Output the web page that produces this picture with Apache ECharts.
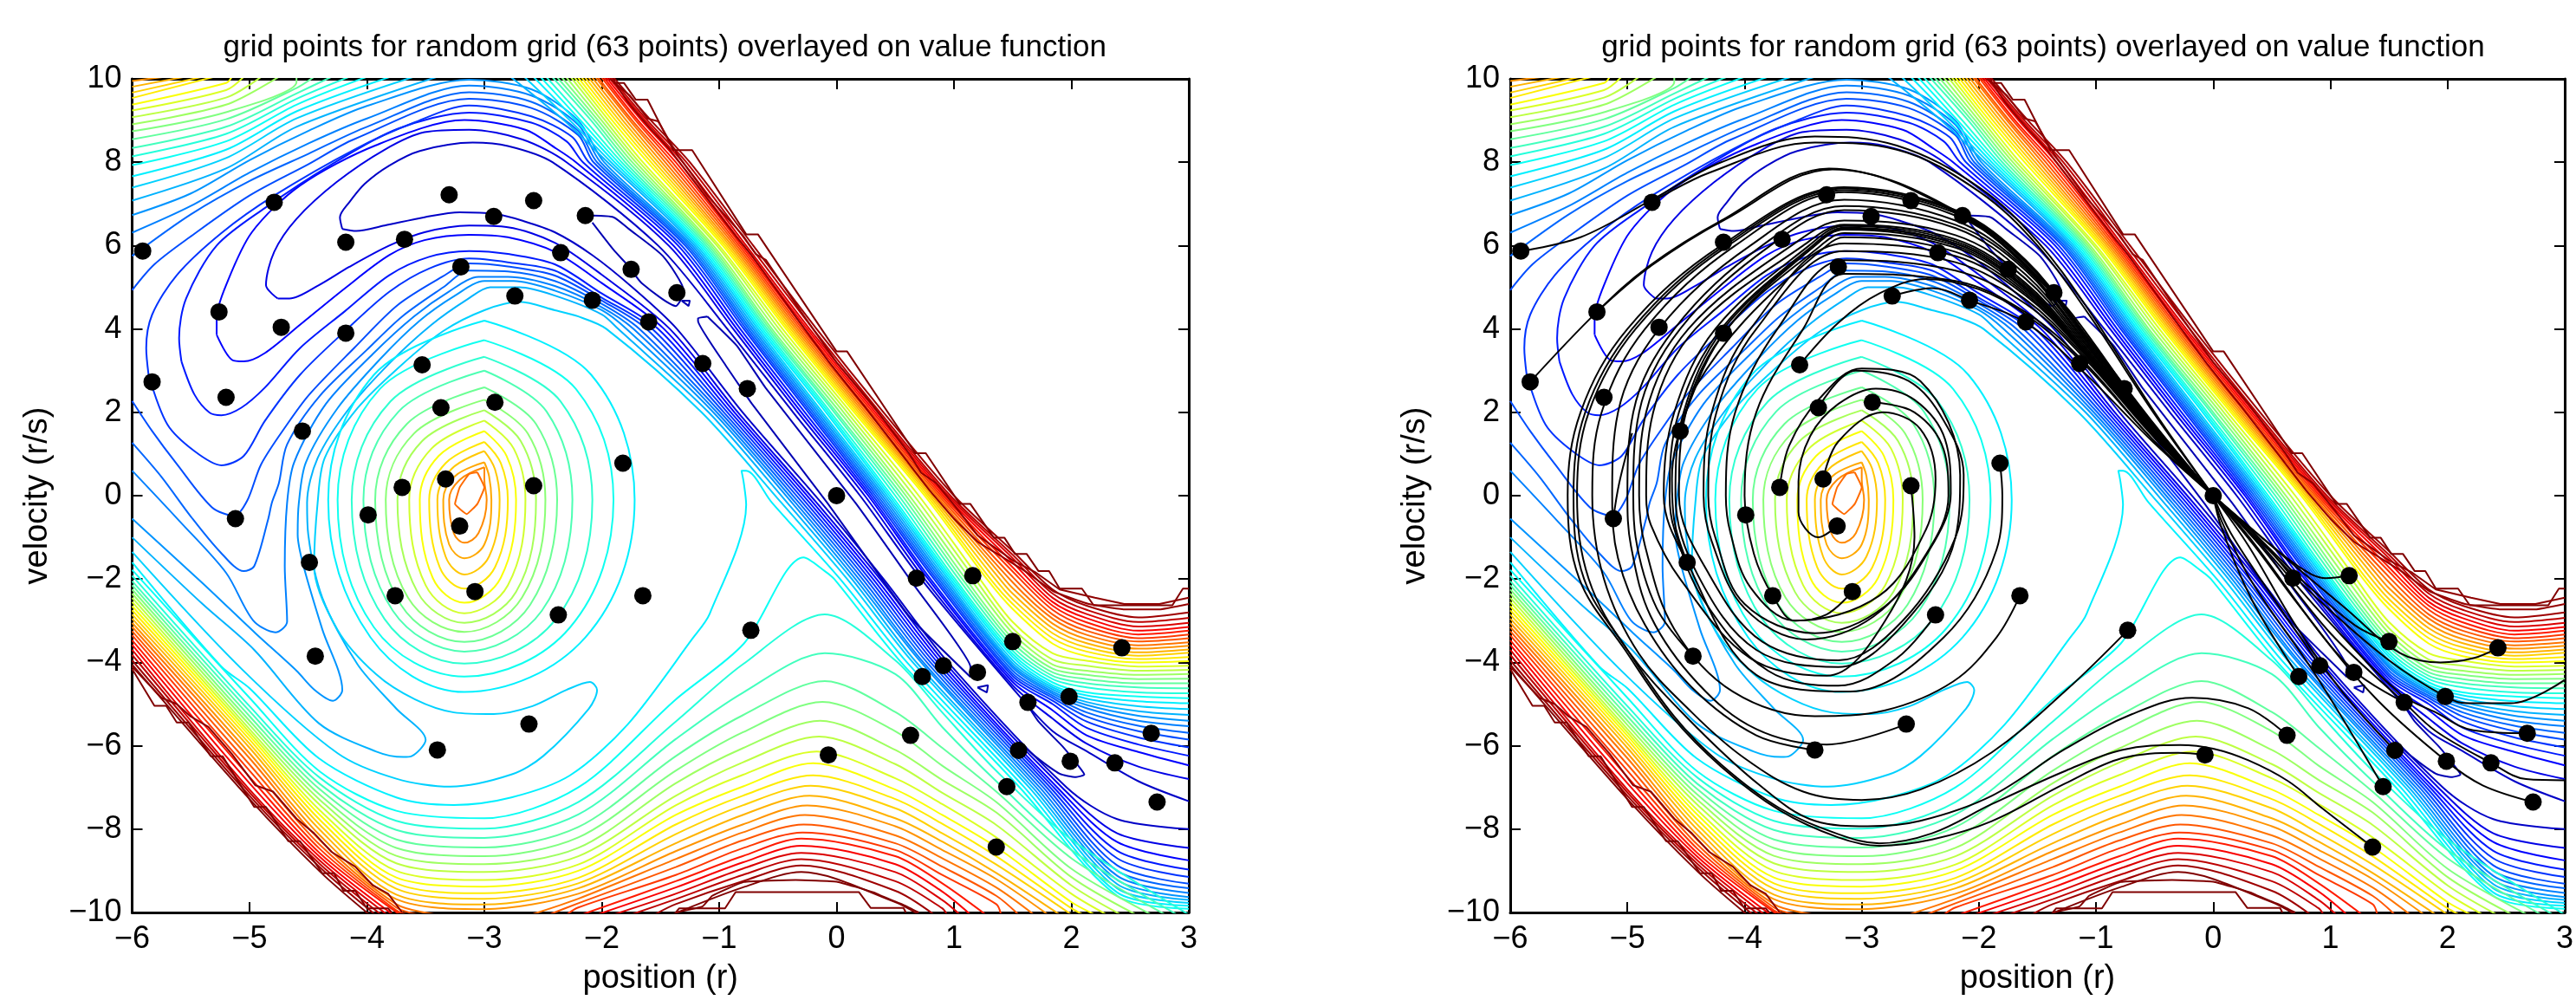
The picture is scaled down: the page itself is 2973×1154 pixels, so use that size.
<!DOCTYPE html>
<html><head><meta charset="utf-8"><style>html,body{margin:0;background:#fff}#c{width:2973px;height:1154px}</style>
<script src="https://cdn.jsdelivr.net/npm/echarts@6/dist/echarts.min.js"></script></head><body><div id="c"></div><script>
const titleText='grid points for random grid (63 points) overlayed on value function';
const xName='position (r)', yName='velocity (r/s)';
const n=null;
// upper valley side of the diagonal band: x read at given y, y read at given x
const bandT=[.07,.1,.125,.15,.175,.2,.225,.25,.27,.3,.33,.36,.385,.41,.44,.47,.5,.53,.56,.59,.62,.645,.67,.7,.73,.76,.79,.82,.85,.88,.91,.94,.97];
const bandX10=[n,n,n,n,n,n,n,n,n,-2.8,-2.68,-2.6,-2.54,-2.49,-2.44,-2.4,-2.36,-2.32,-2.28,-2.25,-2.22,-2.19,-2.16,-2.13,-2.1,-2.07,-2.05,-2.02,-2,-1.98,-1.96,-1.94,-1.92];
const bandX9=[n,n,n,n,n,n,n,n,n,-2.32,-2.27,-2.22,-2.18,-2.14,-2.09,-2.06,-2.03,-2,-1.97,-1.94,-1.91,-1.88,-1.85,-1.82,-1.79,-1.76,-1.74,-1.71,-1.69,-1.66,-1.63,-1.61,-1.58];
const bandX8=[-2.42,-2.3,-2.22,-2.16,-2.11,-2.07,-2.04,-2.01,-1.98,-1.95,-1.92,-1.89,-1.86,-1.83,-1.8,-1.77,-1.74,-1.71,-1.68,-1.65,-1.61,-1.58,-1.55,-1.52,-1.49,-1.46,-1.43,-1.4,-1.37,-1.34,-1.31,-1.28,-1.25];
const bandX6=[-1.52,-1.43,-1.39,-1.35,-1.32,-1.29,-1.27,-1.25,-1.23,-1.21,-1.19,-1.17,-1.15,-1.13,-1.11,-1.09,-1.07,-1.05,-1.02,-1,-.97,-.95,-.93,-.91,-.89,-.87,-.85,-.83,-.81,-.79,-.77,-.74,-.71];
const bandX4=[-.93,-.88,-.85,-.82,-.79,-.77,-.75,-.73,-.71,-.69,-.67,-.65,-.63,-.61,-.59,-.57,-.55,-.52,-.49,-.46,-.43,-.41,-.39,-.37,-.35,-.33,-.31,-.29,-.27,-.25,-.23,-.2,-.17];
const bandX2=[-.37,-.33,-.3,-.27,-.24,-.22,-.2,-.18,-.16,-.14,-.12,-.09,-.07,-.05,-.02,0,.03,.06,.09,.12,.15,.17,.19,.21,.23,.25,.27,.29,.31,.33,.35,.37,.4];
const bandX0=[.2,.24,.27,.29,.31,.33,.35,.37,.39,.41,.43,.45,.47,.5,.53,.56,.59,.62,.66,.7,.75,.77,.79,.81,.83,.85,.87,.89,.91,.93,.95,.97,1];
const bandXm2=[.72,.75,.78,.8,.83,.85,.87,.89,.91,.93,.95,.97,.99,1.01,1.04,1.07,1.1,1.14,1.18,1.22,1.28,1.31,1.35,1.39,1.43,n,n,n,n,n,n,n,n];
const bandY150=[-4.62,-4.55,-4.47,-4.4,-4.33,-4.27,-4.2,-4.13,-4.08,-4.02,-3.95,-3.87,-3.8,-3.72,-3.63,-3.53,-3.43,-3.3,-3.18,-3.03,-2.72,-2.6,-2.48,-2.35,-2.22,-2.08,-1.95,-1.82,-1.72,-1.6,-1.5,-1.42,-1.33];
const bandY184=[-5.65,-5.35,-5.15,-5,-4.92,-4.85,-4.8,-4.75,-4.7,-4.65,-4.6,-4.55,-4.48,-4.4,-4.32,-4.24,-4.15,-4.05,-3.93,-3.78,-3.55,-3.42,-3.3,-3.18,-3.07,-2.95,-2.85,-2.74,-2.64,-2.55,-2.45,-2.35,-2.25];
const bandY213=[-6.13,-5.95,-5.75,-5.57,-5.42,-5.3,-5.2,-5.1,-5.02,-4.95,-4.87,-4.79,-4.72,-4.6,-4.5,-4.4,-4.3,-4.2,-4.08,-3.96,-3.85,-3.74,-3.64,-3.54,-3.44,-3.34,-3.24,-3.14,-3.04,-2.94,-2.84,-2.74,-2.64];
const bandY257=[-6.85,-6.5,-6.15,-5.97,-5.8,-5.65,-5.52,-5.4,-5.28,-5.17,-5.05,-4.93,-4.82,-4.72,-4.6,-4.5,-4.4,-4.3,-4.2,-4.1,-4,-3.92,-3.84,-3.76,-3.67,-3.59,-3.5,-3.42,-3.33,-3.24,-3.14,-3.03,-2.92];
const bandY300=[-7.33,-6.8,-6.47,-6.24,-6.04,-5.85,-5.69,-5.53,-5.4,-5.26,-5.12,-4.98,-4.86,-4.74,-4.62,-4.5,-4.39,-4.28,-4.18,-4.08,-3.97,-3.87,-3.77,-3.69,-3.6,-3.52,-3.42,-3.33,-3.24,-3.15,-3.05,-2.93,-2.8];
// arcs over the top that lead into the band rows
const upperArcs=[
[-4.21,6.4,-4.23,6.68,-4.15,7.04,-4.02,7.48,-3.81,7.92,-3.55,8.27,-3.1,8.47,-2.8,8.39],
[-4.76,4.73,-4.86,5.05,-4.79,5.85,-4.6,6.64,-4.26,7.52,-3.85,8.3,-3.51,8.72,-3.13,8.78,-2.68,8.55],
[-5.28,3.86,-5.28,4.26,-5.2,5.05,-4.98,6.32,-4.57,7.44,-3.93,8.4,-3.17,9.01,-2.65,8.78,-2.4,8.35],
[-5.58,3.22,-5.6,3.78,-5.54,4.73,-5.28,6,-4.87,6.9,-4.3,7.95,-3.74,8.8,-3.13,9.19,-2.6,8.95,-2.3,8.5],
[-5.86,2.9,-5.88,3.54,-5.83,4.34,-5.62,5.29,-5.24,6.3,-4.79,7.2,-4.11,8.3,-3.6,8.95,-3.13,9.36,-2.6,9.1,-2.25,8.6],
[-6,4.93,-5.81,5.55,-5.51,6.2,-5,7.2,-4.5,7.95,-4.11,8.55,-3.13,9.52,-2.6,9.3,-2.2,8.65],
[-6,5.75,-5.5,6.75,-5,7.55,-4.5,8.2,-4,8.85,-3.13,9.68,-2.6,9.45,-2.2,8.75],
[-6,6.31,-5.5,6.95,-5,7.75,-4.5,8.45,-4,9.05,-3.13,9.84,-2.6,9.6,-2.2,8.9],
[-6,6.73,-5.5,7.25,-5,8.05,-4.5,8.75,-4,9.35,-3.13,9.98,-2.6,9.75,-2.2,9]];
// top-left corner pieces
const cornerT=[.3,.33,.36,.385,.41,.44,.47,.5,.53,.56,.59,.62,.645,.67,.7,.73];
const cornerY6=[7.08,7.39,7.66,7.93,8.14,8.34,8.55,8.74,8.91,9.08,9.24,9.38,9.54,9.67,9.81,9.95];
const cornerY52=[7.85,8.1,8.3,8.5,8.68,8.85,9.03,9.2,9.38,9.55,9.73,9.9,n,n,n,n];
const cornerY46=[8.85,9.05,9.22,9.38,9.52,9.65,9.78,9.92,n,n,n,n,n,n,n,n];
const cornerTopX=[-3.4,-3.6,-3.8,-4,-4.15,-4.3,-4.45,-4.6,-4.75,-4.9,-5.05,-5.15,-5.3,-5.4,-5.55,-5.72];
// lower valley side
const lowT=[.07,.1,.125,.15,.175,.2,.225,.25,.27,.3,.33,.36,.385];
const lowX4=[-1.36,-1.42,-1.47,-1.52,-1.57,-1.62,-1.68,-1.73,-1.79,-1.86,-1.96,n,n];
const lowX2=[-.8,-.84,-.87,-.9,-.93,-.96,-.99,-1.02,-1.05,-1.09,-1.15,n,n];
const lowX017=[-.13,-.17,-.2,-.23,-.26,-.29,-.32,-.35,-.38,-.42,-.47,-.55,n];
const lowXm2=[.4,.37,.34,.31,.28,.25,.22,.19,.16,.13,.09,.03,-.02];
const lowXm4=[.95,.92,.89,.86,.83,.8,.77,.74,.72,.68,.65,.6,.55];
const lowXm7=[1.96,1.92,1.88,1.85,1.82,1.79,1.76,1.73,1.7,1.67,1.64,1.6,1.56];
const lowY240=[-7.76,-8.1,-8.31,-8.52,-8.7,-8.87,-9,-9.12,-9.22,-9.32,-9.42,-9.52,-9.6];
const lowY300=[-8,-8.45,-8.75,-8.97,-9.15,-9.31,-9.42,-9.53,-9.63,-9.7,-9.77,-9.84,-9.91];
const lowerTongues=[
[-4.21,6.4,-4.09,6.35,-3.85,6.48,-3.51,6.68,-3.21,6.8,-2.91,6.76,-2.68,6.6,-2.4,6.32,-2.08,5.77,-1.74,5],
[-4.76,4.73,-4.66,4.73,-4.41,5.05,-4.15,5.49,-3.81,6,-3.51,6.32,-3.13,6.48,-2.8,6.44,-2.4,6.07,-2,5.3],
[-5.28,3.86,-5.15,3.26,-5.05,3.22,-4.87,3.42,-4.57,4.1,-4.19,4.97,-3.81,5.77,-3.51,6.13,-3.13,6.26,-2.8,6.2,-2.4,5.85,-2,5.1],
[-5.58,3.22,-5.47,2.43,-5.34,1.99,-5.24,1.93,-5.07,2.11,-4.87,2.59,-4.57,3.54,-4.19,4.42,-3.81,5.29,-3.47,5.73,-3.13,5.87,-2.8,5.8,-2.4,5.55,-2,4.85],
[-5.86,2.9,-5.7,1.71,-5.47,1.07,-5.24,.73,-5.05,.95,-4.87,1.79,-4.57,2.9,-4.19,3.94,-3.81,4.89,-3.47,5.45,-3.13,5.69,-2.8,5.6,-2.4,5.4,-2,4.75],
[-6,2.27,-5.83,1.55,-5.62,.76,-5.32,-.28,-5.13,-.48,-5.02,-.12,-4.9,.76,-4.68,1.71,-4.49,2.43,-4.11,3.54,-3.74,4.57,-3.36,5.25,-3.13,5.57,-2.8,5.5,-2.4,5.28,-2,4.68],
[-6,1.27,-5.75,.45,-5.5,-.5,-5.25,-1.35,-5.05,-1.81,-4.96,-1.69,-4.84,-.55,-4.81,-.17,-4.75,.3,-4.68,1.23,-4.4,2.4,-4,3.5,-3.7,4.3,-3.35,5,-3.13,5.4,-2.8,5.38,-2.4,5.15,-2,4.6],
[-6,.6,-5.6,-.6,-5.2,-1.85,-4.97,-2.99,-4.78,-3.28,-4.68,-3.02,-4.7,-1.69,-4.68,-.17,-4.62,.8,-4.35,2.2,-3.95,3.4,-3.6,4.3,-3.3,4.9,-3.05,5.25,-2.8,5.25,-2.4,5.03,-2,4.52],
[-6,-.55,-5.4,-2.1,-4.95,-3.3,-4.6,-4.2,-4.45,-4.65,-4.29,-4.92,-4.21,-4.66,-4.38,-3.21,-4.54,-1.69,-4.59,-.93,-4.58,-.17,-4.52,.8,-4.25,2.1,-3.88,3.3,-3.55,4.2,-3.25,4.8,-3,5.15,-2.75,5.15,-2.4,4.92,-2,4.45],
[-6,-1,-5.4,-2.6,-4.96,-3.7,-4.41,-5.46,-3.92,-6.14,-3.69,-6.27,-3.62,-6.25,-3.5,-5.86,-3.75,-5.11,-4.08,-4.05,-4.38,-2.45,-4.5,-.93,-4.51,-.17,-4.42,.9,-4.15,2.1,-3.8,3.2,-3.45,4.1,-3.15,4.7,-2.95,5,-2.7,5,-2.4,4.8,-2,4.35],
[-6,-1.35,-5.07,-4.15,-4.25,-6.18,-3.75,-6.79,-3.29,-6.98,-2.77,-6.69,-2.5,-6.25,-2.11,-5.11,-2.04,-4.66,-2.1,-4.47,-2.3,-4.66,-2.59,-5.05,-2.92,-5.24,-3.26,-5.2,-3.59,-4.89,-3.92,-4.29,-4.25,-3.22,-4.45,-1.69,-4.42,-.17,-4.36,.9,-4.08,2.1,-3.72,3.1,-3.35,3.95,-3,4.45,-2.7,4.65,-2.4,4.45,-2.2,4.3],
[-6,-1.6,-5.24,-4.1,-5,-4.62,-4.41,-6.3,-3.75,-7.24,-3.26,-7.42,-2.77,-7.24,-2.27,-6.71,-1.78,-5.49,-1.23,-3.44,-1.08,-2.83,-.77,-.22,-.79,.3,-.81,.6,-.77,.6],
[-6,-1.78,-5,-4.85,-4.4,-6.62,-3.75,-7.56,-3,-7.74,-2.2,-7,-1.37,-4.89,-.79,-3.55,-.28,-1.48,-.1,-1.81]];
// U-and-hump family
const humpT=[.41,.44,.47,.5,.53,.56,.59,.62,.645,.67,.7,.73,.76,.79,.82,.85,.88,.91,.94,.97,1];
const humpYm6=[-1.92,-2.05,-2.15,-2.25,-2.35,-2.45,-2.55,-2.65,-2.75,-2.85,-2.95,-3.05,-3.15,-3.25,-3.35,-3.47,-3.58,-3.7,-3.82,-3.95,-4.05];
const humpYm5=[-5.05,-5.17,-5.29,-5.4,-5.5,-5.6,-5.68,-5.76,-5.85,-5.95,-6.05,-6.18,-6.3,-6.45,-6.6,-6.75,-6.9,-7.05,-7.12,-7.2,-7.28];
const humpYm44=[-6.77,-6.92,-7.05,-7.18,-7.3,-7.42,-7.55,-7.66,-7.78,-7.9,-8.02,-8.15,-8.27,-8.38,-8.48,-8.58,-8.67,-8.76,-8.84,-8.92,-9.02];
const humpYm375=[-7.8,-8.02,-8.25,-8.45,-8.64,-8.82,-9,-9.16,-9.3,-9.43,-9.57,-9.68,-9.8,-9.88,-9.95,n,n,n,n,n,n];
const humpYm3=[-7.99,-8.21,-8.44,-8.65,-8.84,-9.03,-9.22,-9.38,-9.54,-9.67,-9.81,-9.92,n,n,n,n,n,n,n,n,n];
const humpBottomL=[n,n,n,n,n,n,n,n,n,n,n,n,-3.4,-3.55,-3.65,-3.72,-3.78,-3.83,-3.88,-3.93,-3.98];
const humpBottomR=[n,n,n,n,n,n,n,n,n,n,n,n,-2.6,-2.45,-2.3,-2.17,-2.04,-1.9,-1.75,-1.55,-1.4];
const humpYm22=[-7.35,-7.65,-7.95,-8.2,-8.45,-8.65,-8.85,-9,-9.17,-9.3,-9.42,-9.55,-9.67,-9.78,-9.88,n,n,n,n,n,n];
const humpYm137=[-5.42,-5.84,-6.25,-6.6,-6.9,-7.2,-7.43,-7.66,-7.89,-8.12,-8.34,-8.53,-8.72,-8.91,-9.1,-9.25,-9.4,-9.55,-9.68,-9.8,n];
const humpYm08=[-4.05,-4.73,-5.27,-5.68,-6.06,-6.4,-6.7,-6.98,-7.2,-7.43,-7.66,-7.89,-8.08,-8.27,-8.46,-8.65,-8.8,-8.95,-9.1,-9.25,-9.4];
const humpTopX=[-.1,-.1,-.1,-.12,-.14,-.15,-.17,-.2,-.2,-.22,-.23,-.25,-.27,-.28,-.29,-.3,-.3,-.3,-.3,-.3,-.3];
const humpTopY=[-2.85,-3.78,-4.45,-4.95,-5.4,-5.78,-6.14,-6.42,-6.71,-6.96,-7.2,-7.43,-7.66,-7.89,-8.08,-8.23,-8.4,-8.57,-8.72,-8.87,-9.03];
const humpY05=[-3.95,-4.28,-5.19,-5.65,-6.1,-6.44,-6.78,-7.05,-7.28,-7.5,-7.74,-7.93,-8.15,-8.34,-8.5,-8.65,-8.84,-9.03,-9.25,-9.48,-9.75];
const humpY09=[-5.2,-5.55,-6.05,-6.48,-6.82,-7.13,-7.4,-7.66,-7.87,-8.1,-8.3,-8.5,-8.7,-8.9,-9.1,-9.3,-9.5,-9.7,-9.9,n,n];
const humpY136=[-6.6,-6.85,-7.1,-7.35,-7.6,-7.9,-8.2,-8.43,-8.65,-8.85,-9.05,-9.2,-9.4,-9.6,-9.8,n,n,n,n,n,n];
const humpY2=[-8.25,-8.5,-8.7,-8.95,-9.15,-9.35,-9.55,-9.75,-9.9,n,n,n,n,n,n,n,n,n,n,n,n];
const humpEndX=[3,2.9,2.8,2.68,2.55,2.42,2.3,2.2,2.1,2,1.9,1.8,1.68,1.55,1.4,1.27,1.14,1.05,.94,.83,.7];
// rings around the central hill
const ringT=[.36,.39,.42,.45,.48,.51,.54,.58,.62,.65,.68,.71,.74];
const ringTop=[4.2,3.73,3.33,3,2.6,2.3,2.05,1.8,1.55,1.29,1.07,.8,.68];
const ringBottom=[-4.71,-4.34,-4.03,-3.74,-3.51,-3.27,-3.05,-2.82,-2.57,-2.23,-1.89,-1.5,-1.13];
const ringLeft=[-4.33,-4.25,-4.13,-4.03,-3.93,-3.84,-3.74,-3.64,-3.55,-3.47,-3.4,-3.35,-3.3];
const ringRight=[-1.72,-1.9,-2.08,-2.25,-2.38,-2.48,-2.56,-2.65,-2.73,-2.8,-2.87,-2.94,-2.98];
const ringUpperRightX=[-2.09,-2.22,-2.35,-2.47,-2.56,-2.63,-2.69,-2.75,-2.81,-2.86,-2.91,-2.96,-3];
const ringUpperY=[2.9,2.56,2.26,2.02,1.72,1.49,1.31,1.13,.95,.78,.64,.47,.38];
const ringLowerRightX=[-2.14,-2.27,-2.39,-2.51,-2.61,-2.68,-2.73,-2.8,-2.86,-2.91,-2.96,-3,-3.05];
const ringLowerY=[-3.4,-3.16,-2.96,-2.76,-2.62,-2.45,-2.31,-2.15,-1.97,-1.72,-1.46,-1.17,-.9];
const ringLowerLeftX=[-3.97,-3.94,-3.85,-3.78,-3.71,-3.65,-3.57,-3.5,-3.44,-3.38,-3.33,-3.3,-3.26];
const ringUpperLeftX=[-3.94,-3.89,-3.8,-3.73,-3.66,-3.6,-3.53,-3.45,-3.39,-3.33,-3.28,-3.25,-3.21];
const innerRing=[-3.06,.56,-3,.2,-3.06,-.2,-3.15,-.44,-3.25,-.2,-3.21,.2,-3.13,.52,-3.06,.56];
// single pieces
const edgeStairUpper=[-1.9,9.9,-1.81,9.9,-1.71,9.5,-1.61,9.5,-1.39,8.29,-1.23,8.29,-.77,6.27,-.67,6.27,0,3.46,.09,3.46,.67,1.02,.76,1.02,1.05,-.2,1.14,-.2,1.34,-1.01,1.43,-1.01,1.52,-1.4,1.62,-1.4,1.72,-1.81,1.81,-1.81,1.9,-2.23,2.09,-2.23,2.19,-2.63,2.86,-2.63,2.95,-2.23,3,-2.23];
const edgeStairLower=[-6,-4.16,-5.81,-5.04,-5.71,-5.04,-5.62,-5.44,-5.52,-5.44,-5.33,-6.25,-5.23,-6.25,-4.96,-7.47,-4.86,-7.47,-4.67,-8.29,-4.57,-8.29,-4.38,-9.06,-4.28,-9.06,-4.2,-9.48,-4.1,-9.48,-4,-9.9,-3.82,-9.9,-3.79,-10];
const edgeStairBottom=[-1.37,-10,-1.34,-9.9,-.95,-9.9,-.86,-9.51,.19,-9.51,.29,-9.89,.57,-9.89,.59,-10];
const edgeLineUpper=[-1.93,10,-1.76,9.6,-1.61,9.05,-1.52,8.98,-1.36,8.2,-1.1,7.2,-.8,6.25,-.69,5.8,-.6,5.65,-.3,4.4,0,3.2,.3,2.2,.62,1,.72,.55,.85,.3,1.05,-.4,1.2,-.95,1.35,-1.25,1.5,-1.55,1.7,-1.85,1.9,-2.25,2.2,-2.45,2.45,-2.6,2.75,-2.6,3,-2.45];
const edgeLineUpper2=[-1.91,10,-1.78,9.45,-1.6,8.85,-1.42,8.3,-1.15,7.3,-.85,6.2,-.72,5.75,-.35,4.3,-.05,3.15,.25,2.1,.58,.9,.8,.1,1,-.55,1.2,-1.1,1.4,-1.45,1.6,-1.8,1.85,-2.3,2.15,-2.6,2.45,-2.73,2.75,-2.73,3,-2.6];
const edgeLineLower=[-6,-4.1,-5.75,-4.85,-5.62,-5,-5.5,-5.3,-5.35,-5.55,-5.15,-6.2,-4.95,-6.95,-4.8,-7.1,-4.6,-7.75,-4.45,-8.1,-4.3,-8.55,-4.1,-8.9,-3.95,-9.35,-3.82,-9.55,-3.7,-10];
const edgeLineHump=[-1.37,-10,-1.14,-9.85,-1.06,-9.6,-.79,-9.27,-.35,-9.22,0,-9.26,.32,-9.52,.38,-9.6,.58,-9.83,.7,-10];
const valleyFinger=[-1.1,4.3,-.85,3.6,-.6,2.57,.16,-.17,.66,-2.15,1.14,-4.1,1.14,-4.35,.62,-2.9,-.08,-.17,-.72,2.2,-.95,3.15,-1.18,4.19,-1.18,4.26,-1.1,4.3];
const valleyFinger2=[1.61,-4.95,1.72,-5.42,1.93,-6.03,2.07,-6.52,2.11,-6.69,2.04,-6.75,1.9,-6.67,1.69,-6.25,1.55,-5.9];
const valleyFinger3=[-2.08,6.72,-1.9,6.68,-1.77,6.4,-1.48,5.75,-1.3,4.9,-1.37,4.55,-1.66,5.1,-1.77,5.5,-1.9,5.9,-2.08,6.55];
const tinyLoop1=[-1.32,4.68,-1.25,4.68,-1.26,4.55,-1.32,4.68];
const tinyLoop2=[1.2,-4.6,1.29,-4.55,1.28,-4.72,1.2,-4.6];
// grid points
const gridX=[-5.91,-5.83,-4.79,-5.26,-4.73,-5.2,-4.18,-3.68,-4.18,-3.3,-2.92,-2.58,-2.14,-2.35,-3.2,-2.74,-1.75,-2.08,-1.36,-1.6,-1.14,-.76,0,-3.53,-3.37,-2.91,-4.55,-3.7,-3.33,-2.58,-1.82,-5.12,-3.99,-3.21,-4.49,-3.76,-3.08,-1.65,-2.37,-4.44,-2.62,-3.4,-.73,.68,1.16,1.5,2.43,.73,.91,1.2,1.63,1.98,2.68,.63,-.07,1.55,1.99,2.37,2.73,1.45,1.36];
const gridY=[5.87,2.73,7.04,4.41,4.04,2.36,6.08,6.15,3.9,7.22,6.7,7.08,6.72,5.83,5.49,4.79,5.43,4.69,4.87,4.17,3.17,2.57,0,3.14,2.11,2.24,1.55,.2,.4,.24,.78,-.55,-.46,-.73,-1.6,-2.4,-2.3,-2.4,-2.86,-3.85,-5.48,-6.1,-3.23,-1.98,-1.92,-3.5,-3.65,-4.34,-4.08,-4.24,-4.96,-4.82,-5.7,-5.75,-6.22,-6.11,-6.37,-6.41,-7.35,-6.98,-8.43];
// closed-loop paths into the goal: last pass over the top
const arcStartX=[-5.51,-5.46,-5.43,-5.3,-5.13,-5,-4.95,-4.9,-4.84,-4.69,-4.64,-4.59,-4.56,-4.35,-4.31,-4.16,-4];
const arcX2=[-5.4,-5.36,-5.33,-5.22,-5.08,-4.95,-4.9,-4.84,-4.78,-4.6,-4.56,-4.52,-4.5,-4.28,-4.24,-4.08,-3.9];
const arcX4=[-5,-4.96,-4.93,-4.85,-4.73,-4.6,-4.55,-4.48,-4.42,-4.25,-4.2,-4.18,-4.15,-3.95,-3.9,-3.72,-3.5];
const arcX6=[-4.2,-4.17,-4.14,-4.08,-3.95,-3.85,-3.78,-3.6,-3.5,-3.45,-3.42,-3.4,-3.35,n,n,n,n];
const arcTop=[7.4,7.37,7.33,7.28,7.1,6.95,6.85,6.6,6.5,6.47,6.43,6.38,6.3,6.05,5.87,5.65,5.32];
const arcY22=[6.85,6.82,6.78,6.72,6.6,6.5,6.42,6.25,6.15,6.1,6.05,6,5.95,5.75,5.6,5.4,5.15];
const arcY16=[5.65,5.62,5.6,5.55,5.45,5.4,5.3,5.2,5.1,5.05,5,4.95,4.9,4.8,4.7,4.6,4.4];
const arcY11=[3.9,3.88,3.85,3.8,3.75,3.7,3.65,3.6,3.55,3.5,3.5,3.45,3.45,3.4,3.35,3.3,3.2];
const arcY05=[1.7,1.68,1.66,1.64,1.62,1.6,1.58,1.55,1.52,1.5,1.48,1.46,1.44,1.42,1.4,1.38,1.3];
const leadIns=[
[-.07,-6.22,-.3,-6.17,-.78,-6.3,-1.26,-6.9,-1.89,-7.81,-2.4,-8.25,-2.85,-8.4,-3.2,-8.2,-3.7,-7.55,-4.2,-6.5,-4.62,-5.3,-5.02,-3.7,-5.41,-2],
[1.36,-8.43,.93,-7.5,.64,-6.85,.3,-6.35,0,-6.07,-.28,-5.98,-.78,-6.1,-1.26,-6.6,-1.89,-7.4,-2.4,-8.1,-2.85,-8.34,-3.2,-8.12,-3.7,-7.5,-4.2,-6.45,-4.6,-5.3,-5,-3.7,-5.37,-2],
[.63,-5.75,.3,-5.1,-.18,-4.85,-.7,-5.25,-1.26,-6.07,-1.89,-7.2,-2.5,-7.8,-2.95,-7.93,-3.4,-7.8,-3.87,-6.95,-4.5,-5.3,-5,-3.7,-5.33,-2],
[-.73,-3.23,-1.26,-4.68,-1.89,-6.16,-2.5,-7.05,-3,-7.3,-3.5,-7.1,-4,-6.3,-4.45,-5.2,-4.9,-3.8,-5.2,-2],
[-3.4,-6.1,-3.9,-5.75,-4.45,-4.6,-4.85,-3.1,-5.08,-1.5],
[-2.62,-5.48,-3.3,-5.97,-3.9,-5.6,-4.4,-4.5,-4.8,-2.9,-4.97,-1.2],
[-4.44,-3.85,-4.75,-2.7,-4.93,-1],
[-1.65,-2.4,-1.85,-3.4,-2.22,-4.46,-2.8,-5.15,-3.4,-5.29,-4.1,-4.7,-4.6,-3.2,-4.85,-1.2],
[-2.58,.24,-2.55,-1,-2.8,-3,-3.3,-4.32,-3.95,-3.9,-4.55,-2,-4.8,-.7],
[-1.82,.78,-1.8,0,-1.85,-1.3,-2.3,-3.4,-3.1,-4.7,-3.9,-4.3,-4.49,-1.6],
[-2.37,-2.86,-2.7,-3.9,-3.2,-4.56,-3.8,-4.2,-4.35,-2.5,-4.6,-.8],
[-3.7,.2,-3.62,1.2,-3.37,2.3,-3,3.05,-2.5,2.75,-2.16,.5,-2.2,-1,-2.65,-3.1,-3.2,-4.11,-3.9,-3.7,-4.4,-1.9],
[-3.37,2.11,-3.05,3,-2.6,2.75,-2.3,1.8,-2.13,.5,-2.2,-1,-2.65,-3,-3.2,-3.95,-3.85,-3.5,-4.3,-1.9],
[-2.91,2.24,-2.55,2,-2.3,1.1,-2.26,0,-2.45,-1.4,-2.9,-2.9,-3.47,-3.45,-4,-2.7,-4.28,-1.1],
[-3.21,-.73,-3.37,-1,-3.54,-.39,-3.54,.34,-3.44,1.43,-3.2,2.2,-2.88,2.57,-2.55,2.3,-2.29,1.36,-2.24,.05,-2.38,-1.1,-2.8,-2.65,-3.4,-3.3,-4,-2.6,-4.25,-1],
[-3.33,.4,-3.2,1.3,-2.82,2,-2.5,1.6,-2.37,.4,-2.45,-.8,-2.85,-2.4,-3.57,-3,-3.95,-2.2,-4.12,-.9],
[-3.08,-2.3,-3.3,-2.85,-3.57,-3,-3.76,-2.4,-3.92,-1.4]];
const extraPaths=[
[-5.91,5.87,-5.4,6.2,-4.79,7.1,-4.2,8,-3.4,8.62,-2.7,8.4,-2,7.4,-1.5,6.1,-1.05,4.4,-.5,2,0,0],
[-4.79,7.04,-4.3,7.75,-3.4,8.47,-2.7,8.3,-2,7.3,-1.5,6,-1.05,4.3,-.5,1.95,0,0],
[-5.83,2.73,-5.26,4.41,-4.82,5.5,-4.2,6.6,-3.28,7.85,-2.16,6.74,-1.37,4.85,-1.05,3.7,-.5,1.6,0,0],
[-5.26,4.41,-4.79,5.53,-4.17,6.62,-3.25,7.83,-2.14,6.74,-1.35,4.82,-1.03,3.7,-.5,1.6,0,0],
[-5.12,-.55,-5.07,.3,-4.96,1.5],
[-3.53,3.14,-3.2,4.15,-2.85,4.85,-2.45,5.2,-2,4.95,-1.6,4.35,-1.1,3.15,-.5,1.3,0,0],
[-2.74,4.79,-2.4,4.98,-2.08,4.69,-1.6,4.15,-1.1,2.95,-.5,1.25,0,0],
[2.43,-3.65,2.22,-3.9,1.94,-4,1.59,-3.77,1.12,-2.68,.64,-1.55,0,0],
[1.16,-1.92,.96,-1.98,.74,-1.72,.39,-.94,0,0],
[1.5,-3.5,1.21,-3.11,.74,-1.98,.33,-.85,0,0],
[.68,-1.98,.4,-1.05,0,0],
[3,-4.42,2.54,-4.98,2.16,-4.98,1.98,-4.82,1.5,-3.95,.9,-2.5,.4,-1.1,0,0],
[2.68,-5.7,2.22,-5.63,1.9,-5.2,1.6,-4.76,.96,-2.94,.4,-1.15,0,0],
[3,-6.83,2.67,-6.8,2.37,-6.41,1.9,-5.65,1.63,-4.96,1,-3.3,.4,-1.2,0,0],
[2.73,-7.35,2.3,-6.95,1.99,-6.37,1.4,-4.9,.9,-3.25,.35,-1.15,0,0],
[1.45,-6.98,.86,-4.24,.33,-2.07,.07,-.6,0,0],
[.73,-4.34,.33,-2.5,.07,-.76,0,0],
[.91,-4.08,.5,-2.4,.15,-.9,0,0],
[1.63,-4.96,1.2,-4.2,.75,-2.7,.35,-1.2,0,0],
[1.55,-6.11,1.1,-4.7,.7,-3.1,.3,-1.2,0,0],
[-4.49,-1.6,-4.6,-.6,-4.62,.4,-4.5,2,-4.15,4,-3.4,6,-3.15,6.41,-2.2,6.05,-1.6,5,-1.1,3.48,-.5,1.47,0,0],
[-4.55,1.55,-4.42,2.6,-4,4.2,-3.3,6,-3.15,6.2,-2.2,5.85,-1.6,4.85,-1.1,3.42,-.5,1.43,0,0]];

function jet(t){
  const c=v=>Math.round(255*Math.max(0,Math.min(1,v)));
  const r=t<.375?0:t<.625?(t-.375)/.25:t<.875?1:1-(t-.875)*4;
  const g=t<.125?0:t<.375?(t-.125)/.25:t<.625?1:t<.875?1-(t-.625)/.25:0;
  const b=t<.125?.5+t*4:t<.375?1:t<.625?1-(t-.375)/.25:0;
  return `rgb(${c(r)},${c(g)},${c(b)})`;
}
const pairs=f=>{const o=[];for(let i=0;i<f.length;i+=2)o.push([f[i],f[i+1]]);return o;};
const contours=[];
const add=(t,pts,s=.3)=>contours.push({t,pts,s});
bandT.forEach((t,i)=>{
  const p=i<upperArcs.length?pairs(upperArcs[i]):[];
  if(bandX10[i]!==n){p.push([bandX10[i],10.1],[bandX9[i],9]);}
  p.push([bandX8[i],8],[bandX6[i],6],[bandX4[i],4],[bandX2[i],2],[bandX0[i],0]);
  if(bandXm2[i]!==n)p.push([bandXm2[i],-2]);
  p.push([1.5,bandY150[i]],[1.84,bandY184[i]],[2.13,bandY213[i]],[2.57,bandY257[i]],[3,bandY300[i]]);
  add(t,p);
});
cornerT.forEach((t,i)=>{
  const p=[[-6,cornerY6[i]]];
  if(cornerY52[i]!==n)p.push([-5.2,cornerY52[i]]);
  if(cornerY46[i]!==n)p.push([-4.6,cornerY46[i]]);
  p.push([cornerTopX[i],10.05]);
  add(t,p);
});
lowT.forEach((t,i)=>{
  const p=pairs(lowerTongues[i]);
  if(lowX4[i]!==n)p.push([lowX4[i],4],[lowX2[i],2]);
  if(lowX017[i]!==n)p.push([lowX017[i],-.17]);
  p.push([lowXm2[i],-2],[lowXm4[i],-4],[lowXm7[i],-7],[2.39,lowY240[i]],[3,lowY300[i]]);
  add(t,p);
});
humpT.forEach((t,i)=>{
  const a=[[-6,humpYm6[i]],[-5,humpYm5[i]],[-4.4,humpYm44[i]]];
  if(humpYm375[i]!==n)a.push([-3.75,humpYm375[i]]);
  let b=[];
  if(humpYm3[i]!==n){a.push([-3,humpYm3[i]]);b=a;}
  else{a.push([humpBottomL[i],-10.05]);add(t,a);b=[[humpBottomR[i],-10.05]];}
  if(humpYm22[i]!==n)b.push([-2.2,humpYm22[i]]);
  if(humpYm137[i]!==n)b.push([-1.37,humpYm137[i]]);
  b.push([-.8,humpYm08[i]],[humpTopX[i],humpTopY[i]],[.5,humpY05[i]]);
  if(humpY09[i]!==n)b.push([.9,humpY09[i]]);
  if(humpY136[i]!==n)b.push([1.36,humpY136[i]]);
  if(humpY2[i]!==n)b.push([2,humpY2[i]]);
  b.push([humpEndX[i],-10.05]);
  add(t,b);
});
ringT.forEach((t,i)=>{
  add(t,[[-3,ringTop[i]],[ringUpperRightX[i],ringUpperY[i]],[ringRight[i],-.1],[ringLowerRightX[i],ringLowerY[i]],[-3.17,ringBottom[i]],[ringLowerLeftX[i],ringLowerY[i]],[ringLeft[i],-.1],[ringUpperLeftX[i],ringUpperY[i]],[-3,ringTop[i]]],.37);
});
add(.77,pairs(innerRing),.1);
add(1,pairs(edgeStairUpper),0);add(1,pairs(edgeStairLower),0);add(1,pairs(edgeStairBottom),0);
add(.985,pairs(edgeLineUpper),0);add(.98,pairs(edgeLineUpper2),.1);add(.99,pairs(edgeLineLower),0);add(1,pairs(edgeLineHump),.1);
add(.05,pairs(valleyFinger),.1);add(.05,pairs(valleyFinger2),.2);add(.05,pairs(valleyFinger3),.2);add(.05,pairs(tinyLoop1),0);add(.05,pairs(tinyLoop2),0);

const trajectories=[];
leadIns.forEach((l,i)=>{
  const p=pairs(l);p.push([arcStartX[i],0],[arcX2[i],2],[arcX4[i],4]);
  if(arcX6[i]!==n)p.push([arcX6[i],6]);
  p.push([-3.15,arcTop[i]],[-2.2,arcY22[i]],[-1.6,arcY16[i]],[-1.1,arcY11[i]],[-.5,arcY05[i]],[0,0]);
  trajectories.push(p);
});
extraPaths.forEach(e=>trajectories.push(pairs(e)));

const panels=[{left:152.5,w:1219.5},{left:1743,w:1220}];
const grids=[],xAxes=[],yAxes=[],series=[],titles=[];
const font='"Liberation Sans",Arial,sans-serif';
const minus=v=>String(v).replace('-','\u2212');
panels.forEach((pn,k)=>{
  grids.push({left:pn.left,top:91,width:pn.w,height:962,containLabel:false});
  titles.push({text:titleText,left:pn.left+pn.w/2,top:33,textAlign:'center',textStyle:{fontFamily:font,fontSize:35,fontWeight:'normal',color:'#000'}});
  const line={show:true,onZero:false,lineStyle:{color:'#000',width:3}};
  const tick={show:true,inside:true,length:12,lineStyle:{color:'#000',width:2}};
  xAxes.push({type:'value',gridIndex:k,min:-6,max:3,interval:1,position:'bottom',axisLine:line,axisTick:tick,splitLine:{show:false},
    axisLabel:{fontFamily:font,fontSize:36,color:'#000',margin:13,formatter:minus},name:xName,nameLocation:'middle',nameGap:58,nameTextStyle:{fontFamily:font,fontSize:38,color:'#000'}});
  xAxes.push({type:'value',gridIndex:k,min:-6,max:3,interval:1,position:'top',axisLine:line,axisTick:tick,splitLine:{show:false},axisLabel:{show:false}});
  yAxes.push({type:'value',gridIndex:k,min:-10,max:10,interval:2,position:'left',axisLine:line,axisTick:tick,splitLine:{show:false},
    axisLabel:{fontFamily:font,fontSize:36,color:'#000',margin:12,formatter:minus},name:yName,nameLocation:'middle',nameGap:90,nameRotate:90,nameTextStyle:{fontFamily:font,fontSize:38,color:'#000'}});
  yAxes.push({type:'value',gridIndex:k,min:-10,max:10,interval:2,position:'right',axisLine:line,axisTick:tick,splitLine:{show:false},axisLabel:{show:false}});
  const xi=k*2,yi=k*2;
  contours.forEach(c=>series.push({type:'line',xAxisIndex:xi,yAxisIndex:yi,data:c.pts,showSymbol:false,symbol:'none',smooth:c.s,clip:true,silent:true,z:2,animation:false,lineStyle:{color:jet(c.t),width:2}}));
  if(k===1)trajectories.forEach(p=>series.push({type:'line',xAxisIndex:xi,yAxisIndex:yi,data:p,showSymbol:false,symbol:'none',smooth:.36,clip:true,silent:true,z:3,animation:false,lineStyle:{color:'#000',width:2}}));
  series.push({type:'scatter',xAxisIndex:xi,yAxisIndex:yi,data:gridX.map((x,i)=>[x,gridY[i]]),symbolSize:20,itemStyle:{color:'#000',opacity:1},z:4,silent:true,animation:false});
});
const chart=echarts.init(document.getElementById('c'),null,{renderer:'canvas'});
chart.setOption({animation:false,title:titles,grid:grids,xAxis:xAxes,yAxis:yAxes,series});
</script></body></html>
